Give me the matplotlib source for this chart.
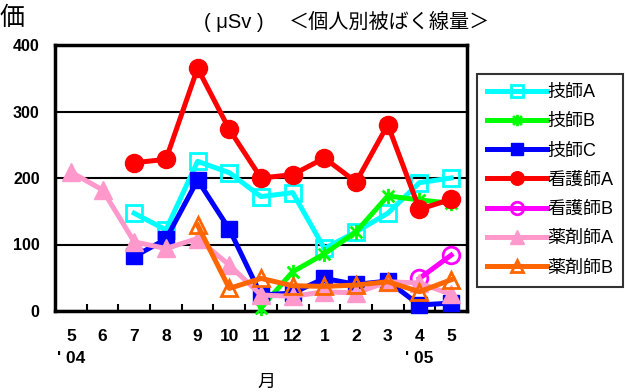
import numpy as np
import matplotlib
matplotlib.use("Agg")
import matplotlib.pyplot as plt
from matplotlib.path import Path
from matplotlib.lines import Line2D

plt.rcParams['font.family'] = ['Liberation Sans', 'Noto Sans CJK JP', 'DejaVu Sans']

# Month categories (May 2004 – May 2005)
months = ['5', '6', '7', '8', '9', '10', '11', '12', '1', '2', '3', '4', '5']
nan = np.nan

# Individual exposure dose (μSv)
gishi_a = [nan, nan, 147, 122, 225, 208, 172, 178, 94, 119, 147, 193, 200]
gishi_b = [nan, nan, nan, nan, nan, nan, 5, 59, 86, 119, 173, 167, 162]
gishi_c = [nan, nan, 82, 108, 197, 123, 24, 27, 49, 40, 45, 9, 12]
kango_a = [nan, nan, 223, 228, 365, 273, 200, 205, 230, 194, 280, 153, 168]
kango_b = [nan, nan, nan, nan, nan, nan, nan, nan, nan, nan, nan, 49, 84]
yaku_a = [209, 182, 104, 94, 109, 69, 24, 22, 29, 27, 44, 42, 25]
yaku_b = [nan, nan, nan, nan, 129, 34, 49, 38, 37, 39, 44, 29, 47]

series_names = ['技師A', '技師B', '技師C', '看護師A', '看護師B', '薬剤師A', '薬剤師B']

# Asterisk marker: an "x" crossed by a vertical stroke
asterisk = Path(
    [(-1, -1), (1, 1), (-1, 1), (1, -1), (0, -1.3), (0, 1.3)],
    [Path.MOVETO, Path.LINETO, Path.MOVETO, Path.LINETO, Path.MOVETO, Path.LINETO],
)

styles = [
    dict(color='#00FFFF', marker='s', mfc='none', mec='#00FFFF', ms=11, mew=2),
    dict(color='#00FF00', marker=asterisk, mfc='none', mec='#00FF00', ms=11, mew=2),
    dict(color='#0000FF', marker='s', mfc='#0000FF', mec='#0000FF', ms=12, mew=1),
    dict(color='#FF0000', marker='o', mfc='#FF0000', mec='#FF0000', ms=13, mew=1),
    dict(color='#FF00FF', marker='o', mfc='none', mec='#FF00FF', ms=12, mew=2),
    dict(color='#FF99CC', marker='^', mfc='#FF99CC', mec='#FF99CC', ms=13, mew=1),
    dict(color='#FF6600', marker='^', mfc='none', mec='#FF6600', ms=12, mew=2),
]
data = [gishi_a, gishi_b, gishi_c, kango_a, kango_b, yaku_a, yaku_b]

fig = plt.figure(figsize=(6.27, 3.92), dpi=100)
ax = fig.add_axes([55 / 627, 1 - 311 / 392, 412 / 627, 266 / 392])

x = np.arange(len(months))
for i, (vals, st, name) in enumerate(zip(data, styles, series_names)):
    ax.plot(x, vals, lw=3.6, label=name, zorder=3 + i, clip_on=False, **st)

ax.set_xlim(-0.5, len(months) - 0.5)
ax.set_ylim(0, 400)
ax.set_yticks([0, 100, 200, 300, 400])
ax.set_yticklabels(['0', '100', '200', '300', '400'], fontsize=11.5, fontweight='bold')
ax.tick_params(axis='y', length=0, pad=11)
ax.yaxis.grid(True, color='black', lw=1.5)
ax.set_axisbelow(True)

ax.set_xticks(x)
ax.set_xticklabels(months, fontsize=12.5, fontweight='bold')
ax.set_xticks(np.arange(0.5, len(months) - 0.5, 1), minor=True)
ax.tick_params(axis='x', which='major', length=0, pad=13)
ax.tick_params(axis='x', which='minor', direction='in', length=5, width=1.5)

for sp in ax.spines.values():
    sp.set_linewidth(2.5)

# Year markers under the month labels
ax.text(0, -0.18, "' 04", transform=ax.get_xaxis_transform(), ha='center', va='center',
        fontsize=12.5, fontweight='bold')
ax.text(11, -0.18, "' 05", transform=ax.get_xaxis_transform(), ha='center', va='center',
        fontsize=12.5, fontweight='bold')

fig.text(266 / 627, 1 - 382 / 392, '月', ha='center', va='center', fontsize=13)
fig.text(0 / 627, 1 - 18 / 392, '価', ha='left', va='center', fontsize=18)
fig.text(234 / 627, 1 - 22 / 392, '( μSv )', ha='center', va='center', fontsize=14.5)
fig.text(390 / 627, 1 - 22 / 392, '＜個人別被ばく線量＞', ha='center', va='center',
         fontsize=14.5)

handles = [Line2D([], [], lw=3.6, **st) for st in styles]
for h in handles:
    h.set_markersize(h.get_markersize() * 0.75)
leg = fig.legend(handles, series_names, loc='upper left',
                 bbox_to_anchor=(477 / 627, 1 - 74 / 392),
                 fontsize=13, frameon=True, fancybox=False, edgecolor='black',
                 handlelength=3.3, handletextpad=0.05, labelspacing=0.68,
                 borderpad=0.55, borderaxespad=0)
leg.get_frame().set_linewidth(1.5)

fig.savefig('out.png', dpi=100)
